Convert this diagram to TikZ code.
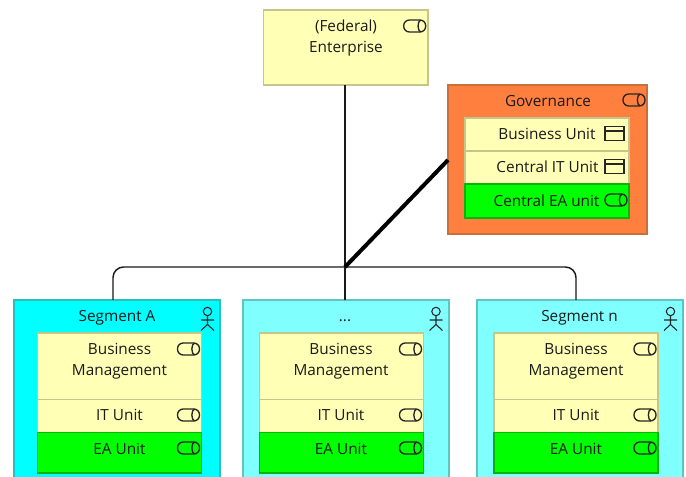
\documentclass[tikz,border=0pt]{standalone}
\usepackage{fontspec}
\setmainfont{Open Sans}
\definecolor{ylw}{HTML}{FFFFB5}
\definecolor{ylwb}{HTML}{C6C68C}
\definecolor{orng}{HTML}{FF7F3F}
\definecolor{orngb}{HTML}{C8703A}
\definecolor{cyanA}{HTML}{00FFFF}
\definecolor{cyanAb}{HTML}{2CBDBD}
\definecolor{cyanB}{HTML}{80FFFF}
\definecolor{cyanBb}{HTML}{60C4C4}
\definecolor{grn}{HTML}{00FF00}
\definecolor{grnb}{HTML}{10B010}
\definecolor{ink}{HTML}{1A1A1A}
\newcommand{\bx}[6]{% name, style, x1, y1, x2, y2
  \pgfmathsetmacro{\bw}{(#5-#3)*0.75}\pgfmathsetmacro{\bh}{(#6-#4)*0.75}
  \node[#2,minimum width=\bw pt,minimum height=\bh pt] (#1) at ({(#3+#5)/2},{(#4+#6)/2}) {};}
\tikzset{
  x=0.75pt,y=-0.75pt,
  box/.style={draw,inner sep=0pt,outer sep=0pt,line width=0.9pt},
  entbox/.style={box,fill=ylw,draw=ylwb},
  govbox/.style={box,fill=orng,draw=orngb},
  segA/.style={box,fill=cyanA,draw=cyanAb},
  segB/.style={box,fill=cyanB,draw=cyanBb},
  unitbox/.style={box,fill=ylw,draw=ylwb},
  eabox/.style={box,fill=grn,draw=grnb},
  txt/.style={inner sep=0pt,outer sep=0pt,text=ink,text height=11pt,text depth=2.4pt,font=\fontsize{11.5pt}{15.75pt}\selectfont},
  link/.style={draw=ink,line width=1.1pt,rounded corners=8pt},
  thicklink/.style={draw=black,line width=3pt},
  pill/.pic={
    \draw[black!85,line width=1pt,rounded corners=4.3pt] (-11,-6) rectangle (11,6);
    \draw[black!85,line width=1pt] (6,-6) .. controls (2.5,-5) and (2.5,5) .. (6,6);
  },
  unitpic/.pic={
    \draw[black!85,line width=0.95pt] (-9.5,-7) rectangle (9.5,7);
    \draw[black!85,line width=0.95pt] (-9.5,-2.5) -- (9.5,-2.5);
  },
  actorpic/.pic={
    \draw[black!85,line width=0.8pt] (0,-5.5) circle[radius=4.2*0.75pt];
    \draw[black!85,line width=0.8pt] (0,-1.2) -- (0,7.5) (-6.5,3) -- (6.5,3) (-6.5,13.5) -- (0,7.5) -- (6.5,13.5);
  }
}
\begin{document}
\begin{tikzpicture}
\useasboundingbox (0,0) rectangle (686,477);
\fill[white] (0,0) rectangle (686,477);
\clip (0,0) rectangle (686,477);
% top
\bx{ent}{entbox}{263.5}{10}{428}{85}
\node[txt] (entA) at (346,26) {(Federal)};
\node[txt] (entB) at (346,47) {Enterprise};
\pic at (414.7,26) {pill};
% governance
\bx{gov}{govbox}{448}{85}{647}{234}
\node[txt] (govT) at (548,100.5) {Governance};
\pic at (634,100) {pill};
\bx{bu}{unitbox}{465}{118}{629}{151}
\node[txt] (buT) at (547,134) {Business Unit};
\pic at (614.5,133.5) {unitpic};
\bx{it}{unitbox}{465}{151}{629}{184}
\node[txt] (itT) at (547.5,167) {Central IT Unit};
\pic at (614.5,166.5) {unitpic};
\bx{ea}{eabox}{465}{184}{629}{218}
\node[txt] (eaT) at (546.5,200.5) {Central EA unit};
\pic at (616,200) {pill};
% segments
\bx{sA}{segA}{14}{300}{220}{500}
\bx{sB}{segB}{243}{300}{449}{500}
\bx{sC}{segB}{477}{300}{683}{500}
\node[txt] (sAT) at (117,316) {Segment A};
\node[txt] (sBT) at (345,316) {...};
\node[txt] (sCT) at (579.5,316) {Segment n};
\pic at (207.5,317) {actorpic};
\pic at (436,317) {actorpic};
\pic at (670.5,317) {actorpic};
% units in A
\bx{a1}{unitbox}{37.5}{333}{201.5}{399.5}
\bx{a2}{unitbox}{37.5}{399.5}{201.5}{432.5}
\bx{a3}{eabox}{37.5}{432.5}{201.5}{473}
\node[txt,align=center] (a1T) at (119.5,369.5) {Business\\Management};
\node[txt] (a2T) at (119.5,415) {IT Unit};
\node[txt] (a3T) at (119.5,448.5) {EA Unit};
\pic at (188.5,349) {pill};
\pic at (188.5,415) {pill};
\pic at (188.5,448) {pill};
% units in ...
\bx{b1}{unitbox}{259.5}{333}{423.5}{399.5}
\bx{b2}{unitbox}{259.5}{399.5}{423.5}{432.5}
\bx{b3}{eabox}{259.5}{432.5}{423.5}{473}
\node[txt,align=center] (b1T) at (341,369.5) {Business\\Management};
\node[txt] (b2T) at (341,415) {IT Unit};
\node[txt] (b3T) at (341,448.5) {EA Unit};
\pic at (410.5,349) {pill};
\pic at (410.5,415) {pill};
\pic at (410.5,448) {pill};
% units in n
\bx{c1}{unitbox}{494}{333}{658}{399.5}
\bx{c2}{unitbox}{494}{399.5}{658}{432.5}
\bx{c3}{eabox}{494}{432.5}{658}{473}
\node[txt,align=center] (c1T) at (576,369.5) {Business\\Management};
\node[txt] (c2T) at (576,415) {IT Unit};
\node[txt] (c3T) at (576,448.5) {EA Unit};
\pic at (645,349) {pill};
\pic at (645,415) {pill};
\pic at (645,448) {pill};
% connectors
\coordinate (hub) at (345,267);
\draw[link] (ent.south -| hub) -- (hub);
\draw[link] (hub) -- (hub |- sB.north);
\draw[link] (hub) -- ([xshift=-3pt]sA.north |- hub) -- ([xshift=-3pt]sA.north);
\draw[link] (hub) -- ([xshift=-3pt]sC.north |- hub) -- ([xshift=-3pt]sC.north);
\draw[thicklink] (hub) -- (gov.west |- 0,160);
\end{tikzpicture}
\end{document}
